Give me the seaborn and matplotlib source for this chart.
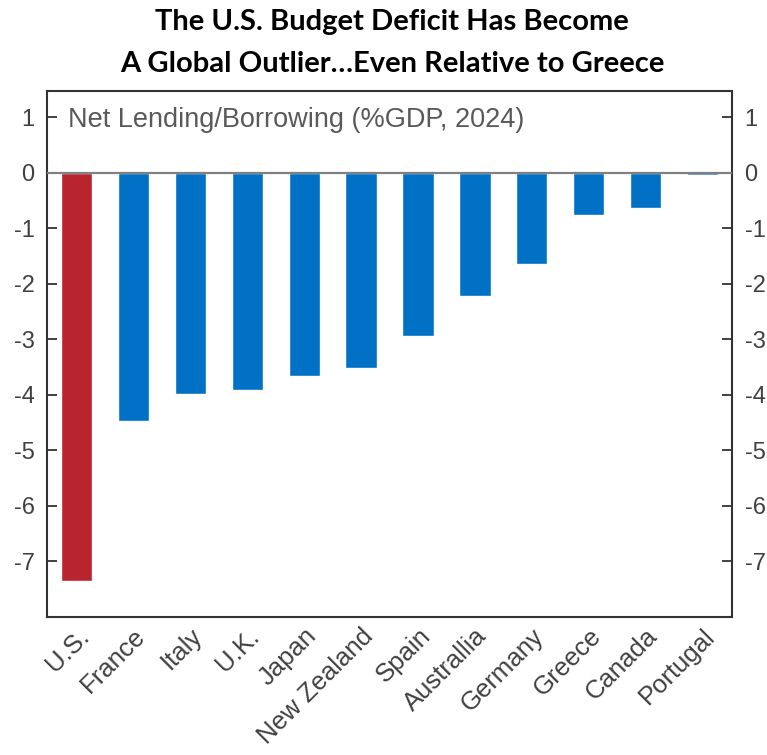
import matplotlib
matplotlib.use("Agg")
import matplotlib.pyplot as plt
import seaborn as sns
import pandas as pd

countries = ["U.S.", "France", "Italy", "U.K.", "Japan", "New Zealand",
             "Spain", "Australlia", "Germany", "Greece", "Canada", "Portugal"]
net_lending = [-7.35, -4.48, -3.99, -3.92, -3.67, -3.52,
               -2.95, -2.22, -1.65, -0.76, -0.64, -0.05]
yticks = [1, 0, -1, -2, -3, -4, -5, -6, -7]

red = "#B9252F"
blue = "#0071C5"
colors = [red] + [blue] * (len(countries) - 1)

df = pd.DataFrame({"country": countries, "value": net_lending})

sns.set_style("white")
plt.rcParams["font.family"] = ["Liberation Sans", "DejaVu Sans"]

fig = plt.figure(figsize=(7.67, 7.55), dpi=100)
ax = fig.add_axes([0.0613, 0.1828, 0.8931, 0.6967])

sns.barplot(data=df, x="country", y="value", hue="country", palette=colors,
            legend=False, width=0.55, saturation=1, ax=ax)

ax.axhline(0, color="#808080", lw=1.6, zorder=3)
ax.set_xlim(-0.52, len(countries) - 0.48)
ax.set_ylim(-8, 1.47)
ax.set_yticks(yticks)
ax.set_yticklabels([str(t) for t in yticks])
ax.set_xlabel("")
ax.set_ylabel("")

for s in ax.spines.values():
    s.set_visible(True)
    s.set_color("#333333")
    s.set_linewidth(1.5)

ax.tick_params(axis="y", direction="in", length=7, width=1.3, color="#333333",
               labelsize=17, labelcolor="#404040", pad=9,
               left=True, right=True, labelleft=True, labelright=True)
ax.tick_params(axis="x", length=0, labelsize=18.5, labelcolor="#404040", pad=5)
for lbl in ax.get_xticklabels():
    lbl.set_rotation(45)
    lbl.set_ha("right")
    lbl.set_va("top")
    lbl.set_rotation_mode("anchor")

ax.text(0.03, 0.945, "Net Lending/Borrowing (%GDP, 2024)", transform=ax.transAxes,
        fontsize=19.5, color="#595959", ha="left", va="center")

fig.text(0.511, 0.971, "The U.S. Budget Deficit Has Become", ha="center", va="center",
         fontsize=21, fontweight="bold", family=["Lato", "DejaVu Sans"], color="black")
fig.text(0.511, 0.915, "A Global Outlier\u2026Even Relative to Greece", ha="center",
         va="center", fontsize=21, fontweight="bold", family=["Lato", "DejaVu Sans"],
         color="black")

fig.savefig("out.png", dpi=100)
